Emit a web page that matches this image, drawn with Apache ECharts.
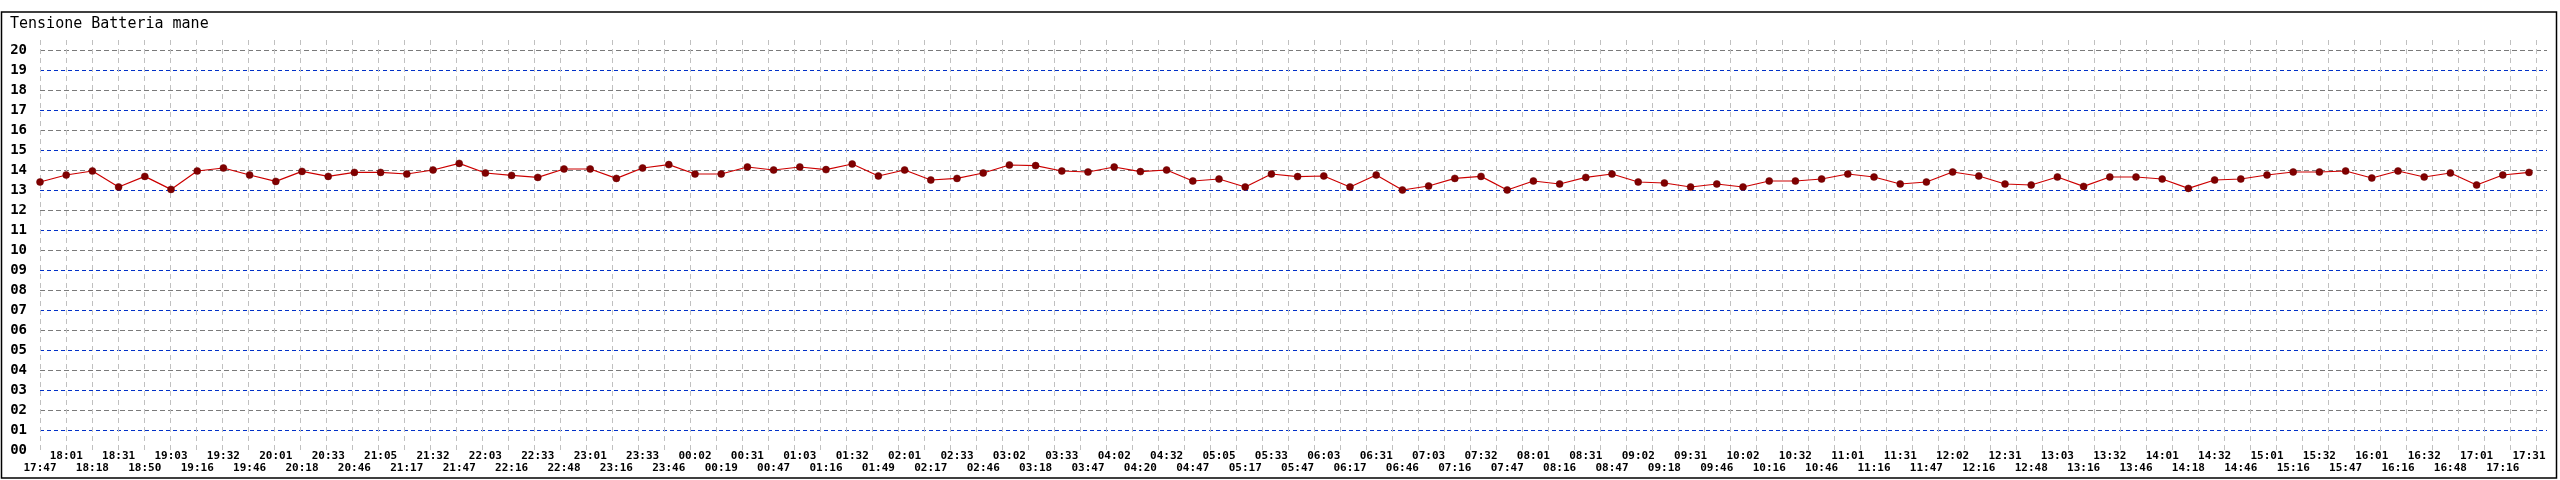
<!DOCTYPE html>
<html>
<head>
<meta charset="utf-8">
<script src="https://cdn.jsdelivr.net/npm/echarts@6/dist/echarts.min.js"></script>
<style>
html,body{margin:0;padding:0;background:#fff;}
#c{width:2560px;height:480px;}
</style>
</head>
<body>
<div id="c"></div>
<script>
const chartTitle = 'Tensione Batteria mane';
const times = ['17:47','18:01','18:18','18:31','18:50','19:03','19:16','19:32','19:46','20:01',
'20:18','20:33','20:46','21:05','21:17','21:32','21:47','22:03','22:16','22:33',
'22:48','23:01','23:16','23:33','23:46','00:02','00:19','00:31','00:47','01:03',
'01:16','01:32','01:49','02:01','02:17','02:33','02:46','03:02','03:18','03:33',
'03:47','04:02','04:20','04:32','04:47','05:05','05:17','05:33','05:47','06:03',
'06:17','06:31','06:46','07:03','07:16','07:32','07:47','08:01','08:16','08:31',
'08:47','09:02','09:18','09:31','09:46','10:02','10:16','10:32','10:46','11:01',
'11:16','11:31','11:47','12:02','12:16','12:31','12:48','13:03','13:16','13:32',
'13:46','14:01','14:18','14:32','14:46','15:01','15:16','15:32','15:47','16:01',
'16:16','16:32','16:48','17:01','17:16','17:31'];
const voltage = [13.40,13.75,13.95,13.15,13.68,13.03,13.95,14.10,13.75,13.43,
13.93,13.68,13.88,13.88,13.80,14.00,14.33,13.85,13.73,13.63,
14.05,14.05,13.58,14.10,14.27,13.80,13.80,14.15,14.00,14.15,
14.02,14.30,13.70,14.00,13.50,13.58,13.85,14.25,14.22,13.95,
13.90,14.15,13.92,14.00,13.45,13.55,13.15,13.80,13.67,13.70,
13.15,13.75,13.00,13.20,13.58,13.68,13.00,13.45,13.30,13.63,
13.80,13.40,13.35,13.15,13.30,13.15,13.45,13.45,13.55,13.80,
13.65,13.30,13.40,13.90,13.70,13.30,13.25,13.65,13.18,13.65,
13.65,13.55,13.08,13.50,13.55,13.75,13.90,13.90,13.95,13.60,
13.95,13.65,13.85,13.25,13.75,13.88];
const yMin = 0, yMax = 20;

const mono = 'DejaVu Sans Mono';
const chart = echarts.init(document.getElementById('c'), null, {renderer:'canvas'});
const hiddenX = i => ({type:'value', gridIndex:i, show:false, min:0, max:1});
const hiddenY = i => ({type:'value', gridIndex:i, show:false, min:0, max:1});
const noDeco = {axisLine:{show:false}, axisTick:{show:false}, axisLabel:{show:false}};

chart.setOption({
  animation:false,
  backgroundColor:'#ffffff',
  graphic:[
    {type:'rect', shape:{x:1.5, y:12, width:2555, height:466}, style:{fill:'none', stroke:'#000', lineWidth:1.5}, z:-1},
    {type:'text', x:10, y:24, style:{text:chartTitle, font:'15px "DejaVu Sans Mono"', fill:'#000', verticalAlign:'middle'}}
  ],
  grid:[
    {left:40, right:13, top:50, bottom:30},   // labels
    {left:40, right:13, top:50, bottom:30},   // even lines
    {left:40, right:13, top:30, bottom:10},   // odd lines
    {left:40, right:13, top:40, bottom:27},   // vertical lines
    {left:40, right:31, top:50, bottom:30}    // data
  ],
  xAxis:[
    hiddenX(0), hiddenX(1), hiddenX(2),
    Object.assign({type:'value', gridIndex:3, min:0, max:2507/26, interval:1,
      splitLine:{show:true, showMaxLine:false, lineStyle:{color:'#c0c0c0', type:[5,4], width:1}}}, noDeco),
    {type:'category', gridIndex:4, data:times, boundaryGap:false,
      axisLine:{show:false}, axisTick:{show:false}, splitLine:{show:false},
      axisLabel:{interval:0, margin:0, fontFamily:mono, fontWeight:'bold', fontSize:11, lineHeight:12, color:'#000',
        formatter:(v,i)=> i%2===0 ? '\n'+v : v}}
  ],
  yAxis:[
    {type:'value', gridIndex:0, min:yMin, max:yMax, interval:1,
      axisLine:{show:false}, axisTick:{show:false}, splitLine:{show:false},
      axisLabel:{margin:13, fontFamily:mono, fontWeight:'bold', fontSize:14, color:'#000',
        formatter:v=> (v<10?'0':'')+v}},
    Object.assign({type:'value', gridIndex:1, min:yMin, max:yMax, interval:2,
      splitLine:{show:true, showMinLine:false, lineStyle:{color:'#7a7a7a', type:[5,3], width:1}}}, noDeco),
    Object.assign({type:'value', gridIndex:2, min:yMin-1, max:yMax+1, interval:2,
      splitLine:{show:true, showMinLine:false, showMaxLine:false, lineStyle:{color:'#0030c8', type:[4,3], width:1}}}, noDeco),
    hiddenY(3),
    {type:'value', gridIndex:4, min:yMin, max:yMax, show:false}
  ],
  series:[{
    type:'line', xAxisIndex:4, yAxisIndex:4, data:voltage,
    symbol:'circle', symbolSize:7,
    lineStyle:{color:'#cc0000', width:1.2},
    itemStyle:{color:'#800000', borderColor:'#6a0000', borderWidth:0.5}
  }]
});
</script>
</body>
</html>
